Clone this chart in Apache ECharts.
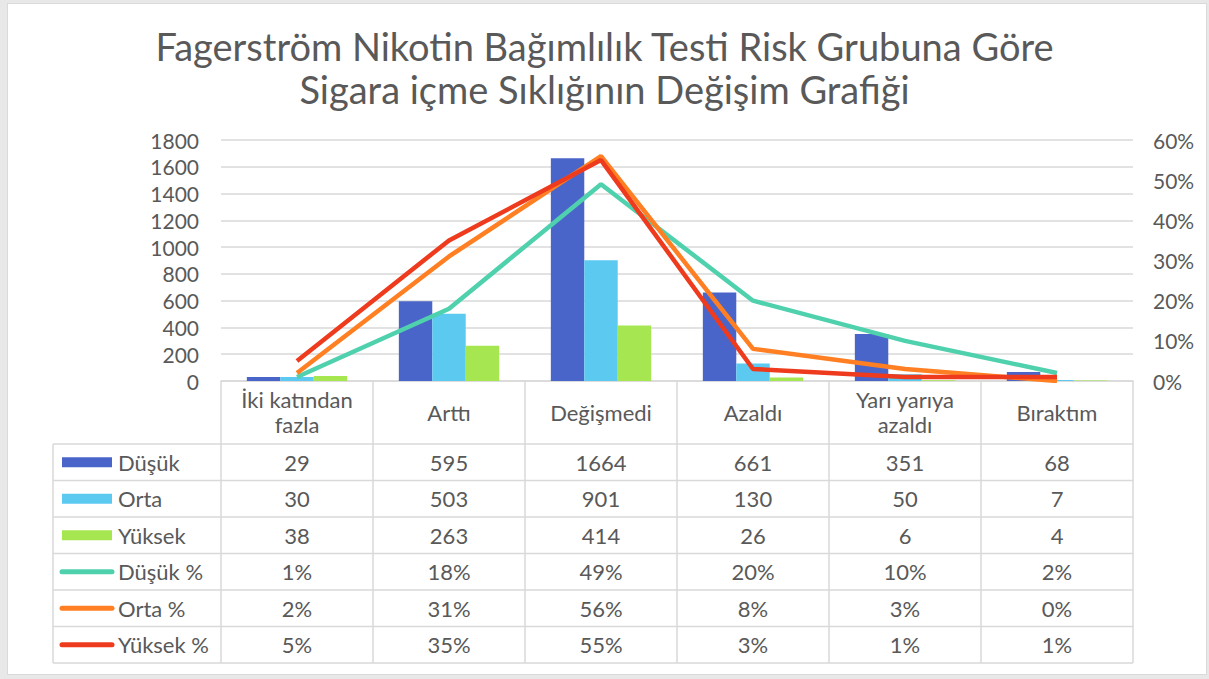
<!DOCTYPE html>
<html>
<head>
<meta charset="utf-8">
<title>Fagerström Nikotin Bağımlılık Testi</title>
<script src="https://cdn.jsdelivr.net/npm/echarts@6/dist/echarts.min.js"></script>
<style>
  html, body { margin: 0; padding: 0; background: #e8e8e8; }
  #frame { position: absolute; left: 7px; top: 3px; width: 1200px; height: 672px;
           background: #fff; border: 1px solid #dadada; box-sizing: border-box; }
  #chart { position: absolute; left: 0; top: 0; width: 1209px; height: 679px; }
</style>
</head>
<body>
<div id="frame"></div>
<div id="chart"></div>
<script>
// Categories (change in smoking frequency)
const categories = ['İki katından\nfazla', 'Arttı', 'Değişmedi', 'Azaldı', 'Yarı yarıya\nazaldı', 'Bıraktım'];

// Counts per Fagerström risk group
const dusuk  = [29, 595, 1664, 661, 351, 68];
const orta   = [30, 503, 901, 130, 50, 7];
const yuksek = [38, 263, 414, 26, 6, 4];

// Percentages per risk group
const dusukPct  = [1, 18, 49, 20, 10, 2];
const ortaPct   = [2, 31, 56, 8, 3, 0];
const yuksekPct = [5, 35, 55, 3, 1, 1];

const countTicks = [0, 200, 400, 600, 800, 1000, 1200, 1400, 1600, 1800];
const pctTicks = [0, 10, 20, 30, 40, 50, 60];

const names = ['Düşük', 'Orta', 'Yüksek', 'Düşük %', 'Orta %', 'Yüksek %'];
const colors = ['#4a65c9', '#5bc9f0', '#a6e650', '#4fd1ae', '#ff7f22', '#ef3b1d'];

const FONT = 'Lato, "Open Sans", sans-serif';
const TEXT = '#595959';
const GRIDC = '#d9d9d9';

const chart = echarts.init(document.getElementById('chart'), null, { renderer: 'svg' });

const grid = { left: 221, right: 76, top: 140, bottom: 298 };

chart.setOption({
  backgroundColor: 'transparent',
  animation: false,
  title: {
    text: 'Fagerström Nikotin Bağımlılık Testi Risk Grubuna Göre\nSigara içme Sıklığının Değişim Grafiği',
    left: 'center', top: 19,
    textStyle: { fontFamily: FONT, fontSize: 38, fontWeight: 'normal', color: TEXT, lineHeight: 43, align: 'center' }
  },
  grid: grid,
  xAxis: {
    type: 'category',
    data: categories,
    axisLine: { lineStyle: { color: GRIDC, width: 1.5 } },
    axisTick: { show: false },
    axisLabel: {
      interval: 0, margin: 31, verticalAlign: 'middle',
      fontFamily: FONT, fontSize: 22, color: TEXT, lineHeight: 25
    }
  },
  yAxis: [
    {
      type: 'value', min: countTicks[0], max: countTicks[countTicks.length - 1], interval: 200,
      axisLabel: { fontFamily: FONT, fontSize: 21, color: TEXT, margin: 22, formatter: v => String(v) },
      splitLine: { lineStyle: { color: GRIDC, width: 1.5 } },
      axisLine: { show: false }, axisTick: { show: false }
    },
    {
      type: 'value', min: pctTicks[0], max: pctTicks[pctTicks.length - 1], interval: 10,
      axisLabel: { fontFamily: FONT, fontSize: 21, color: TEXT, margin: 20, formatter: '{value}%' },
      splitLine: { show: false },
      axisLine: { show: false }, axisTick: { show: false }
    }
  ],
  series: [
    { name: names[0], type: 'bar', data: dusuk, itemStyle: { color: colors[0] }, barGap: '0%', barCategoryGap: '34%' },
    { name: names[1], type: 'bar', data: orta, itemStyle: { color: colors[1] } },
    { name: names[2], type: 'bar', data: yuksek, itemStyle: { color: colors[2] } },
    { name: names[3], type: 'line', yAxisIndex: 1, data: dusukPct, symbol: 'none', lineStyle: { color: colors[3], width: 4.5 } },
    { name: names[4], type: 'line', yAxisIndex: 1, data: ortaPct, symbol: 'none', lineStyle: { color: colors[4], width: 4.5 } },
    { name: names[5], type: 'line', yAxisIndex: 1, data: yuksekPct, symbol: 'none', lineStyle: { color: colors[5], width: 4.5 } }
  ]
});

// Data table under the plot, aligned with the category bands
const rows = [
  { values: dusuk, fmt: v => String(v), kind: 'bar' },
  { values: orta, fmt: v => String(v), kind: 'bar' },
  { values: yuksek, fmt: v => String(v), kind: 'bar' },
  { values: dusukPct, fmt: v => v + '%', kind: 'line' },
  { values: ortaPct, fmt: v => v + '%', kind: 'line' },
  { values: yuksekPct, fmt: v => v + '%', kind: 'line' }
];

const c0 = chart.convertToPixel({ xAxisIndex: 0 }, 0);
const c1 = chart.convertToPixel({ xAxisIndex: 0 }, 1);
const band = c1 - c0;
const centers = categories.map((_, i) => chart.convertToPixel({ xAxisIndex: 0 }, i));
const colLeft = centers[0] - band / 2;
const colRight = centers[centers.length - 1] + band / 2;
const axisY = chart.convertToPixel({ yAxisIndex: 0 }, 0);
const headerBottom = axisY + 63;
const rowH = 36.5;
const tableLeft = 53;
const tableBottom = headerBottom + rows.length * rowH;

const g = [];
const line = (x1, y1, x2, y2) => g.push({
  type: 'line', silent: true, shape: { x1, y1, x2, y2 },
  style: { stroke: GRIDC, lineWidth: 1.5 }
});

// horizontal rules
for (let r = 0; r <= rows.length; r++) {
  const y = headerBottom + r * rowH;
  line(tableLeft, y, colRight, y);
}
// vertical rules
line(tableLeft, headerBottom, tableLeft, tableBottom);
for (let i = 0; i <= categories.length; i++) {
  const x = colLeft + i * band;
  line(x, axisY, x, tableBottom);
}

rows.forEach((row, r) => {
  const cy = headerBottom + r * rowH + rowH / 2;
  if (row.kind === 'bar') {
    g.push({ type: 'rect', silent: true, shape: { x: 62, y: cy - 5, width: 50, height: 10 }, style: { fill: colors[r] } });
  } else {
    g.push({ type: 'line', silent: true, shape: { x1: 62, y1: cy, x2: 112, y2: cy },
             style: { stroke: colors[r], lineWidth: 5, lineCap: 'round' } });
  }
  g.push({ type: 'text', silent: true, x: 118, y: cy,
           style: { text: names[r], fontFamily: FONT, fontSize: 22, fill: TEXT, align: 'left', verticalAlign: 'middle' } });
  row.values.forEach((v, i) => {
    g.push({ type: 'text', silent: true, x: centers[i], y: cy,
             style: { text: row.fmt(v), fontFamily: FONT, fontSize: 22, fill: TEXT, align: 'center', verticalAlign: 'middle' } });
  });
});

chart.setOption({ graphic: { elements: g } });
</script>
</body>
</html>
